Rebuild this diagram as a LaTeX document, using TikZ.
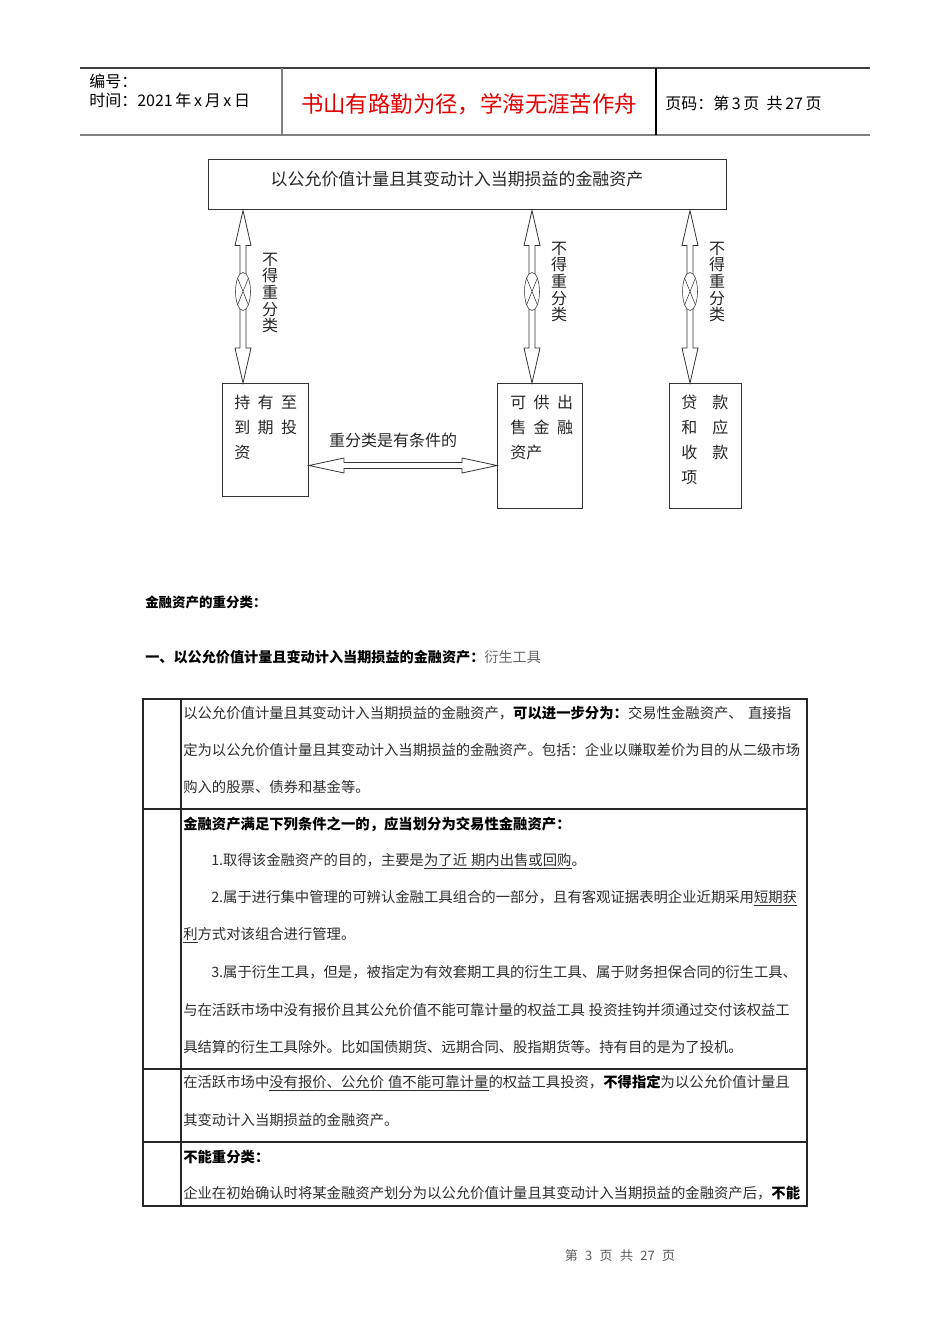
\documentclass[tikz,border=0pt]{standalone}
\usepackage{fontspec}
\setmainfont{Noto Sans CJK SC}
\usetikzlibrary{shapes.geometric,calc,positioning}
\definecolor{motto}{RGB}{228,0,0}
\definecolor{rulegray}{RGB}{128,128,128}
\definecolor{bodytext}{RGB}{45,45,45}
\newcommand{\cgap}{\hspace{5.6pt}}

\begin{document}
\begin{tikzpicture}[x=0.75pt,y=-0.75pt,
  hdr/.style={anchor=west,inner sep=0,font=\fontsize{12}{14}\selectfont},
  blockarrow/.style={draw=black!80,fill=white,line width=0.6pt},
  assetbox/.style={draw=black!80,line width=0.75pt,inner sep=0,anchor=north west},
  boxtext/.style={anchor=north west,inner sep=0,align=left,text=black!85,
    font=\fontsize{12}{18.75}\selectfont},
  vlabel/.style={inner sep=0,align=center,text=black!85,font=\fontsize{12}{12.45}\selectfont},
  bodyline/.style={anchor=west,inner sep=0,text=bodytext,font=\fontsize{10.76}{12}\selectfont},
  boldline/.style={bodyline,text=black,font=\bfseries\fontsize{10.76}{12}\selectfont},
  tablerule/.style={black!85,line width=0.9pt}]
\useasboundingbox (0,0) rectangle (950,1344);

% header
\draw[black!75,line width=1.1pt] (80,68) -- (870,68);
\draw[rulegray,line width=1.5pt] (80,135) -- (870,135);
\draw[rulegray,line width=0.8pt] (282,68) -- (282,135);
\draw[black,line width=0.8pt] (656,68) -- (656,135);
\node[hdr] (serial) at (89,81) {编号：};
\node[hdr] (date) at (89,100) {时间：2021\,年\,x\,月\,x\,日};
\node[inner sep=0,text=motto,font=\fontsize{16.8}{18}\selectfont] (motto) at (469,104)
  {书山有路勤为径，学海无涯苦作舟};
\node[hdr] (pageno) at (665,103) {页码：第\,3\,页\ \ 共\,27\,页};

% diagram
\node[draw=black!80,line width=0.75pt,inner sep=0,minimum width=388.5pt,minimum height=37.5pt]
  (fvpl) at (467,185) {};
\node[inner sep=0,text=black!85,font=\fontsize{12.7}{14}\selectfont] (fvpltxt) at (457,179)
  {以公允价值计量且其变动计入当期损益的金融资产};

\node[assetbox,minimum width=64.5pt,minimum height=84.75pt] (htm) at (222,383) {};
\node[assetbox,minimum width=63.75pt,minimum height=93.75pt] (afs) at (497,383) {};
\node[assetbox,minimum width=54pt,minimum height=93.75pt] (lr) at (669,383) {};
\node[boxtext] (htmtxt) at ($(htm.north west)+(12,12)$) {持\cgap 有\cgap 至\\到\cgap 期\cgap 投\\资};
\node[boxtext] (afstxt) at ($(afs.north west)+(13,12)$) {可\cgap 供\cgap 出\\售\cgap 金\cgap 融\\资产};
\node[boxtext] (lrtxt) at ($(lr.north west)+(12,12)$)
  {贷\hspace{11.25pt}款\\和\hspace{11.25pt}应\\收\hspace{11.25pt}款\\项};

\foreach \ax/\bx/\ly [count=\i] in {243/htm/293, 532/afs/282, 690/lr/282}{
  \path (\ax,0 |- fvpl.south) coordinate (t\i) (\ax,0 |- \bx.north) coordinate (b\i);
  \draw[blockarrow] (t\i) -- ++(8,35) -- ++(-5,0) -- ($(b\i)+(3,-35)$) -- ++(5,0) -- (b\i)
    -- ++(-8,-35) -- ++(5,0) -- ($(t\i)+(-3,35)$) -- ++(-5,0) -- cycle;
  \node[draw=black!80,fill=white,ellipse,inner sep=0,minimum width=11.25pt,minimum height=28.5pt]
    (stop\i) at ($(t\i)+(0,81)$) {};
  \draw[black!80] (stop\i.north west) -- (stop\i.south east)
    (stop\i.north east) -- (stop\i.south west);
  \node[vlabel] (nr\i) at (\ax+27,\ly) {不\\得\\重\\分\\类};
}

\coordinate (hl) at ($(htm.east)+(0,25.5)$);
\coordinate (hr) at (afs.west |- hl);
\draw[blockarrow] (hl) -- ++(35,-7.5) -- ++(0,4.5) -- ($(hr)+(-35,-3)$) -- ++(0,-4.5) -- (hr)
  -- ++(-35,7.5) -- ++(0,-4.5) -- ($(hl)+(35,3)$) -- ++(0,4.5) -- cycle;
\node[inner sep=0,text=black!85,font=\fontsize{12}{13}\selectfont] (cond) at (393,440)
  {重分类是有条件的};

% headings
\node[anchor=west,inner sep=0,font=\bfseries\fontsize{10.1}{12}\selectfont] (sec) at (145,602)
  {金融资产的重分类：};
\node[anchor=west,inner sep=0,font=\fontsize{10.6}{12}\selectfont] (sec1) at (145,657)
  {{\bfseries 一、以公允价值计量且变动计入当期损益的金融资产：}{\color{black!60}衍生工具}};

% table
\draw[tablerule] (143,699) rectangle (807,1206);
\draw[tablerule] (181,699) -- (181,1206);
\foreach \ry in {809,1069,1142}
  \draw[tablerule] (143,\ry) -- (807,\ry);

\node[bodyline] (r1a) at (183,713) {以公允价值计量且其变动计入当期损益的金融资产，{\bfseries\color{black}可以进一步分为：}交易性金融资产、\hspace{4pt}直接指};
\node[bodyline] (r1b) at (183,750) {定为以公允价值计量且其变动计入当期损益的金融资产。包括：企业以赚取差价为目的从二级市场};
\node[bodyline] (r1c) at (183,787) {购入的股票、债券和基金等。};
\node[boldline] (r2a) at (183,824) {金融资产满足下列条件之一的，应当划分为交易性金融资产：};
\node[bodyline] (r2b) at (211,861) {1.取得该金融资产的目的，主要是\underline{为了近\hspace{3pt}期内出售或回购}。};
\node[bodyline] (r2c) at (211,898) {2.属于进行集中管理的可辨认金融工具组合的一部分，且有客观证据表明企业近期采用\underline{短期获}};
\node[bodyline] (r2d) at (183,935) {\underline{利}方式对该组合进行管理。};
\node[bodyline] (r2e) at (211,972) {3.属于衍生工具，但是，被指定为有效套期工具的衍生工具、属于财务担保合同的衍生工具、};
\node[bodyline] (r2f) at (183,1010) {与在活跃市场中没有报价且其公允价值不能可靠计量的权益工具\hspace{3pt}投资挂钩并须通过交付该权益工};
\node[bodyline] (r2g) at (183,1047) {具结算的衍生工具除外。比如国债期货、远期合同、股指期货等。持有目的是为了投机。};
\node[bodyline] (r3a) at (183,1083) {在活跃市场中\underline{没有报价、公允价\hspace{3pt}值不能可靠计量}的权益工具投资，{\bfseries\color{black}不得指定}为以公允价值计量且};
\node[bodyline] (r3b) at (183,1120) {其变动计入当期损益的金融资产。};
\node[boldline] (r4a) at (183,1157) {不能重分类：};
\node[bodyline] (r4b) at (183,1193) {企业在初始确认时将某金融资产划分为以公允价值计量且其变动计入当期损益的金融资产后，{\bfseries\color{black}不能}};

% footer
\node[inner sep=0,text=black!65,font=\fontsize{9.75}{11}\selectfont] (folio) at (620,1256)
  {第\hspace{5.5pt}3\hspace{5.5pt}页\hspace{5.5pt}共\hspace{5.5pt}27\hspace{5.5pt}页};
\end{tikzpicture}
\end{document}
